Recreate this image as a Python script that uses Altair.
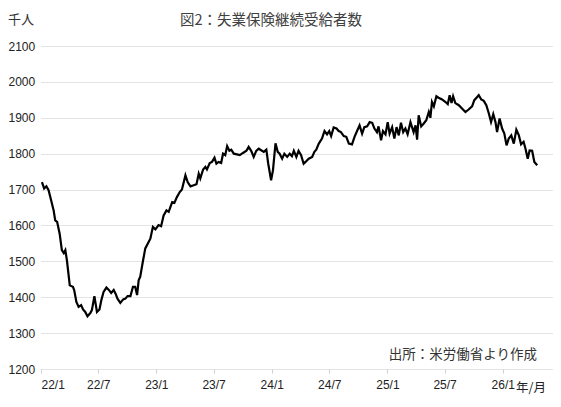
import altair as alt
import pandas as pd

# Days since 2022-01-01 and continuing claims (thousands)
day_offsets = [
    3, 10, 17, 24, 32, 40, 45, 51, 59, 66, 72, 77, 82, 91, 101, 105, 112, 119, 127, 133,
    140, 147, 156, 161, 169, 177, 185, 191, 198, 207, 214, 222, 230, 236, 242, 251, 260, 267, 274, 283,
    291, 298, 304, 309, 314, 323, 330, 346, 354, 362, 372, 380, 388, 397, 404, 415, 422, 430, 439, 446,
    457, 464, 473, 483, 492, 499, 504, 513, 520, 525, 534, 541, 549, 555, 562, 570, 576, 583, 589, 596,
    602, 610, 620, 629, 639, 650, 657, 665, 673, 681, 689, 694, 705, 713, 719, 728, 734, 742, 749, 755,
    763, 770, 779, 787, 794, 800, 808, 815, 823, 831, 837, 847, 858, 865, 871, 879, 889, 897, 905, 912,
    918, 926, 935, 942, 949, 958, 966, 974, 984, 992, 1000, 1008, 1016, 1023, 1032, 1040, 1048, 1055, 1063, 1068,
    1076, 1082, 1090, 1097, 1103, 1111, 1118, 1125, 1132, 1139, 1146, 1153, 1160, 1169, 1179, 1185, 1190, 1195, 1203, 1211,
    1219, 1227, 1232, 1237, 1243, 1251, 1258, 1269, 1280, 1287, 1293, 1299, 1304, 1311, 1322, 1332, 1343, 1353, 1364, 1371,
    1378, 1385, 1393, 1401, 1409, 1417, 1424, 1431, 1438, 1443, 1451, 1459, 1466, 1473, 1480, 1488, 1496, 1504, 1512, 1519,
    1527, 1533, 1540, 1546, 1554, 1561, 1570,
]
claims = [
    1721, 1703, 1709, 1698, 1670, 1642, 1614, 1610, 1577, 1531, 1523, 1531, 1503, 1433, 1429, 1420, 1387, 1373, 1378, 1366,
    1359, 1347, 1356, 1364, 1403, 1359, 1366, 1392, 1415, 1427, 1421, 1412, 1420, 1410, 1396, 1384, 1394, 1396, 1403, 1403,
    1429, 1429, 1406, 1447, 1457, 1503, 1536, 1563, 1596, 1589, 1601, 1598, 1628, 1642, 1638, 1665, 1663, 1679, 1693, 1700,
    1740, 1721, 1709, 1712, 1715, 1744, 1731, 1756, 1763, 1756, 1774, 1777, 1789, 1772, 1777, 1774, 1800, 1796, 1821, 1808,
    1811, 1800, 1798, 1796, 1802, 1808, 1819, 1808, 1791, 1808, 1814, 1811, 1805, 1811, 1772, 1726, 1754, 1829, 1805, 1800,
    1786, 1800, 1791, 1800, 1793, 1808, 1791, 1808, 1796, 1772, 1777, 1786, 1791, 1805, 1811, 1828, 1842, 1863, 1854, 1863,
    1849, 1873, 1870, 1863, 1860, 1849, 1847, 1828, 1826, 1847, 1863, 1879, 1856, 1874, 1876, 1888, 1886, 1870, 1860, 1876,
    1837, 1863, 1854, 1888, 1856, 1874, 1842, 1874, 1851, 1886, 1860, 1870, 1854, 1888, 1860, 1879, 1839, 1907, 1876, 1884,
    1893, 1916, 1900, 1944, 1932, 1960, 1956, 1951, 1944, 1938, 1963, 1941, 1960, 1941, 1935, 1926, 1916, 1923, 1932, 1949,
    1956, 1963, 1951, 1947, 1935, 1912, 1888, 1910, 1888, 1860, 1898, 1870, 1856, 1823, 1842, 1851, 1828, 1867, 1851, 1826,
    1833, 1814, 1786, 1809, 1808, 1777, 1768,
]

tick_months = [(2022, 1), (2022, 7), (2023, 1), (2023, 7), (2024, 1),
               (2024, 7), (2025, 1), (2025, 7), (2026, 1)]
y_ticks = [1200, 1300, 1400, 1500, 1600, 1700, 1800, 1900, 2000, 2100]

title_text = "図2：失業保険継続受給者数"
unit_text = "千人"
source_text = "出所：米労働省より作成"
xunit_text = "年/月"

start = pd.Timestamp("2022-01-01")
dates = [(start + pd.Timedelta(days=d)).strftime("%Y-%m-%dT00:00:00") for d in day_offsets]
df = pd.DataFrame({"date": dates, "value": claims})

JP = "Noto Sans CJK JP"
NUM = "Liberation Sans"

line = alt.Chart(df).mark_line(color="#000000", strokeWidth=2.2).encode(
    x=alt.X(
        "date:T",
        scale=alt.Scale(domain=[alt.DateTime(year=2022, month=1, date=1),
                                alt.DateTime(year=2026, month=6, date=9)]),
        axis=alt.Axis(
            values=[alt.DateTime(year=y, month=m, date=1) for y, m in tick_months],
            format="%y/%-m", title=None, grid=False, domain=False,
            ticks=True, tickSize=4, tickColor="#cfcfcf", labelPadding=6,
            labelFont=NUM, labelFontSize=12, labelColor="#222222",
        ),
    ),
    y=alt.Y(
        "value:Q",
        scale=alt.Scale(domain=[1200, 2100], nice=False, zero=False),
        axis=alt.Axis(
            values=y_ticks, format="d", title=None, domain=False, ticks=False,
            grid=True, gridColor="#c8c8c8", gridDash=[1, 1], gridWidth=1,
            labelAlign="left", labelPadding=33, labelBaseline="middle",
            labelFont=NUM, labelFontSize=12, labelColor="#222222",
        ),
    ),
)

def note(text, x, y, size, align, color="#333333"):
    return alt.Chart(pd.DataFrame({"t": [text]})).mark_text(
        font=JP, fontSize=size, align=align, baseline="middle", color=color
    ).encode(text="t:N", x=alt.value(x), y=alt.value(y))

chart = alt.layer(
    line,
    note(title_text, 230, -25, 14.5, "center", "#404040"),
    note(unit_text, -33, -26, 13, "left"),
    note(source_text, 496, 309, 13.5, "right"),
    note(xunit_text, 475, 342, 12.5, "left", "#222222"),
).properties(
    width=512, height=323,
    autosize=alt.AutoSizeParams(type="none"),
    padding={"left": 33, "top": 38, "right": 0, "bottom": 30},
).configure_view(stroke=None)

chart.save("out.html", embed_options={"renderer": "svg", "actions": False})
